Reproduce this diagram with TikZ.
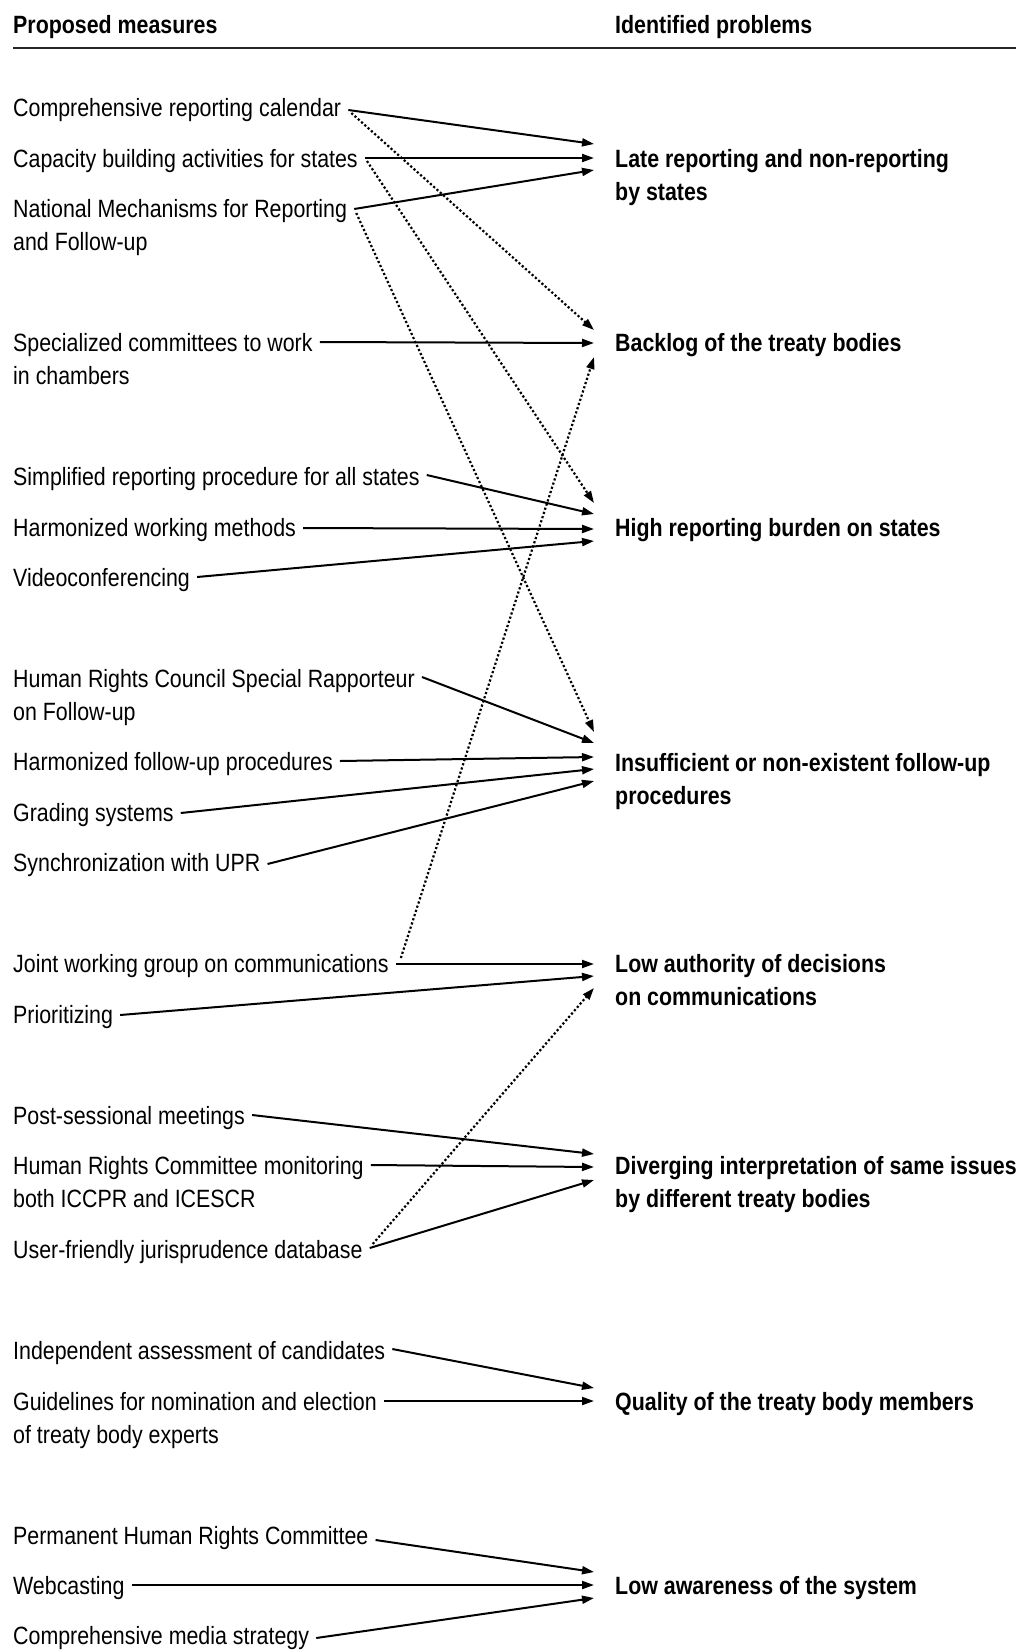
\documentclass[tikz,border=0pt]{standalone}
\usepackage{fontspec}
\setmainfont{Liberation Sans}[FakeStretch=0.855]
\usetikzlibrary{arrows.meta}
\begin{document}
\begin{tikzpicture}[x=1pt,y=-1pt,
  lab/.style={anchor=base west, align=left, inner sep=0pt, font=\fontsize{25}{33.7}\selectfont},
  prob/.style={anchor=base west, align=left, inner sep=0pt, font=\fontsize{25}{33.7}\selectfont\bfseries},
  arr/.style={line width=2pt, -{Triangle[length=12pt,width=8pt]}},
  darr/.style={arr, line width=2.2pt, dash pattern=on 2.2pt off 2.2pt}]
\useasboundingbox (0,0) rectangle (1016,1650);
% headers
\node[prob] (h1) at (13,33) {Proposed measures};
\node[prob] (h2) at (615,33) {Identified problems};
\draw[line width=2.5pt, black!85] (13,48) -- (1016,48);
% left column (two-line nodes are placed by the baseline of their last line)
\node[lab] (l1) at (13,116) {Comprehensive reporting calendar};
\node[lab] (l2) at (13,167) {Capacity building activities for states};
\node[lab] (l3) at (13,250.7) {National Mechanisms for Reporting\\and Follow-up};
\node[lab] (l4) at (13,384.7) {Specialized committees to work\\in chambers};
\node[lab] (l5) at (13,485) {Simplified reporting procedure for all states};
\node[lab] (l6) at (13,536) {Harmonized working methods};
\node[lab] (l7) at (13,586) {Videoconferencing};
\node[lab] (l8) at (13,720.7) {Human Rights Council Special Rapporteur\\on Follow-up};
\node[lab] (l9) at (13,770) {Harmonized follow-up procedures};
\node[lab] (l10) at (13,821) {Grading systems};
\node[lab] (l11) at (13,871) {Synchronization with UPR};
\node[lab] (l12) at (13,972) {Joint working group on communications};
\node[lab] (l13) at (13,1023) {Prioritizing};
\node[lab] (l14) at (13,1124) {Post-sessional meetings};
\node[lab] (l15) at (13,1207.7) {Human Rights Committee monitoring\\both ICCPR and ICESCR};
\node[lab] (l16) at (13,1258) {User-friendly jurisprudence database};
\node[lab] (l17) at (13,1359) {Independent assessment of candidates};
\node[lab] (l18) at (13,1443.7) {Guidelines for nomination and election\\of treaty body experts};
\node[lab] (l19) at (13,1544) {Permanent Human Rights Committee};
\node[lab] (l20) at (13,1594) {Webcasting};
\node[lab] (l21) at (13,1644) {Comprehensive media strategy};
% right column
\node[prob] (rA) at (615,200.7) {Late reporting and non-reporting\\by states};
\node[prob] (rB) at (615,351) {Backlog of the treaty bodies};
\node[prob] (rC) at (615,536) {High reporting burden on states};
\node[prob] (rD) at (615,804.7) {Insufficient or non-existent follow-up\\procedures};
\node[prob] (rE) at (615,1005.7) {Low authority of decisions\\on communications};
\node[prob] (rF) at (615,1207.7) {Diverging interpretation of same issues\\by different treaty bodies};
\node[prob] (rG) at (615,1410) {Quality of the treaty body members};
\node[prob] (rH) at (615,1594) {Low awareness of the system};
% solid connectors
\draw[arr] ([shift={(7,-6)}]l1.base east) -- ([shift={(-21,-56.7)}]rA.base west);
\draw[arr] ([shift={(7,-9)}]l2.base east) -- ([shift={(-21,-42.7)}]rA.base west);
\draw[arr] ([shift={(7,-41.7)}]l3.base east) -- ([shift={(-21,-30.7)}]rA.base west);
\draw[arr] ([shift={(7,-42.7)}]l4.base east) -- ([shift={(-21,-8)}]rB.base west);
\draw[arr] ([shift={(7,-10)}]l5.base east) -- ([shift={(-21,-22)}]rC.base west);
\draw[arr] ([shift={(7,-8)}]l6.base east) -- ([shift={(-21,-7)}]rC.base west);
\draw[arr] ([shift={(7,-9)}]l7.base east) -- ([shift={(-21,5)}]rC.base west);
\draw[arr] ([shift={(7,-43.7)}]l8.base east) -- ([shift={(-21,-61.7)}]rD.base west);
\draw[arr] ([shift={(7,-9)}]l9.base east) -- ([shift={(-21,-47.7)}]rD.base west);
\draw[arr] ([shift={(7,-8)}]l10.base east) -- ([shift={(-21,-35.7)}]rD.base west);
\draw[arr] ([shift={(7,-7)}]l11.base east) -- ([shift={(-21,-23.7)}]rD.base west);
\draw[arr] ([shift={(7,-8)}]l12.base east) -- ([shift={(-21,-41.7)}]rE.base west);
\draw[arr] ([shift={(7,-8)}]l13.base east) -- ([shift={(-21,-29.7)}]rE.base west);
\draw[arr] ([shift={(7,-9)}]l14.base east) -- ([shift={(-21,-53.7)}]rF.base west);
\draw[arr] ([shift={(7,-42.7)}]l15.base east) -- ([shift={(-21,-40.7)}]rF.base west);
\draw[arr] ([shift={(7,-10)}]l16.base east) -- ([shift={(-21,-27.7)}]rF.base west);
\draw[arr] ([shift={(7,-10)}]l17.base east) -- ([shift={(-21,-22)}]rG.base west);
\draw[arr] ([shift={(7,-42.7)}]l18.base east) -- ([shift={(-21,-9)}]rG.base west);
\draw[arr] ([shift={(7,-4)}]l19.base east) -- ([shift={(-21,-22)}]rH.base west);
\draw[arr] ([shift={(7,-9)}]l20.base east) -- ([shift={(-21,-9)}]rH.base west);
\draw[arr] ([shift={(7,-6)}]l21.base east) -- ([shift={(-21,4)}]rH.base west);
% dotted connectors
\draw[darr] ([shift={(10,-3)}]l1.base east) -- ([shift={(-21,-21)}]rB.base west);
\draw[darr] ([shift={(9,-6)}]l2.base east) -- ([shift={(-21,-33)}]rC.base west);
\draw[darr] ([shift={(9,-37.7)}]l3.base east) -- ([shift={(-21,-72.7)}]rD.base west);
\draw[darr] ([shift={(12,-14)}]l12.base east) -- ([shift={(-21,6)}]rB.base west);
\draw[darr] ([shift={(10,-14)}]l16.base east) -- ([shift={(-21,-17.7)}]rE.base west);
\end{tikzpicture}
\end{document}
